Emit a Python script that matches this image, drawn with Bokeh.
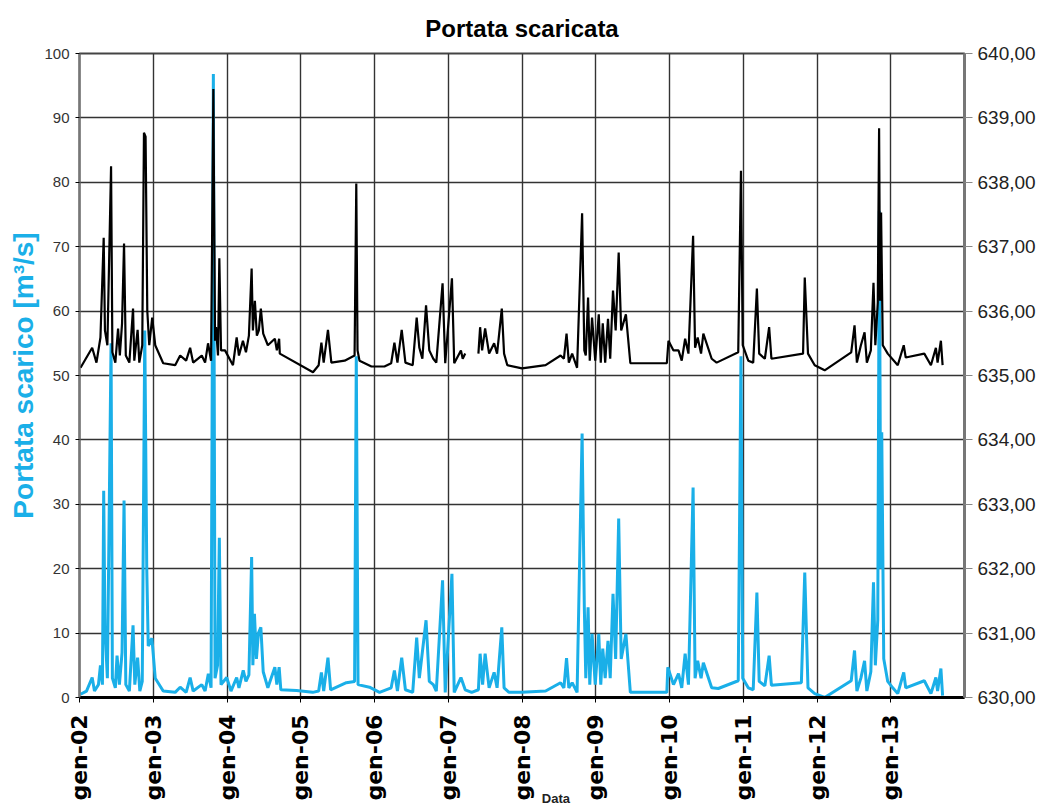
import math
from bokeh.plotting import figure
from bokeh.models import (ColumnDataSource, Range1d, LinearAxis, FixedTicker)
from bokeh.embed import file_html
from bokeh.resources import INLINE

NAN = float("nan")

# ---- data ----
# time as decimal year
t_level = [2002.014, 2002.172, 2002.230, 2002.284, 2002.328, 2002.345, 2002.378, 2002.428, 2002.446, 2002.486,
           2002.523, 2002.547, 2002.577, 2002.604, 2002.628, 2002.676, 2002.726, 2002.743, 2002.788, 2002.811,
           2002.851, 2002.874, 2002.896, 2002.919, 2002.946, 2002.986, 2003.027, 2003.135, 2003.297, 2003.365,
           2003.446, 2003.500, 2003.541, 2003.658, 2003.703, 2003.743, 2003.784, 2003.815, 2003.838, 2003.851,
           2003.878, 2003.896, 2003.919, 2003.973, 2004.081, 2004.131, 2004.162, 2004.216, 2004.257, 2004.297,
           2004.334, 2004.351, 2004.378, 2004.405, 2004.432, 2004.459, 2004.491, 2004.554, 2004.649, 2004.676,
           2004.707, 2004.716, 2005.166, 2005.243, 2005.280, 2005.311, 2005.369, 2005.415, 2005.595, 2005.730,
           2005.753, 2005.770, 2005.797, 2005.959, 2006.135, 2006.226, 2006.270, 2006.311, 2006.369, 2006.419,
           2006.518, 2006.572, 2006.608, 2006.649, 2006.699, 2006.743, 2006.797, 2006.838, 2006.923, 2006.959,
           2007.050, 2007.081, 2007.172, 2007.196, 2007.230, 2007.300, 2007.409, 2007.432, 2007.459, 2007.500,
           2007.554, 2007.622, 2007.662, 2007.726, 2007.757, 2007.801, 2008.000, 2008.320, 2008.523, 2008.568,
           2008.604, 2008.635, 2008.680, 2008.747, 2008.815, 2008.845, 2008.865, 2008.896, 2008.919, 2008.950,
           2008.993, 2009.041, 2009.068, 2009.095, 2009.128, 2009.166, 2009.196, 2009.234, 2009.270, 2009.311,
           2009.345, 2009.409, 2009.469, 2009.964, 2009.986, 2010.054, 2010.122, 2010.166, 2010.212, 2010.257,
           2010.320, 2010.347, 2010.382, 2010.428, 2010.459, 2010.572, 2010.639, 2010.932, 2010.969, 2010.993,
           2011.068, 2011.135, 2011.185, 2011.216, 2011.293, 2011.351, 2011.382, 2011.811, 2011.834, 2011.878,
           2011.969, 2012.104, 2012.464, 2012.509, 2012.541, 2012.595, 2012.645, 2012.676, 2012.730, 2012.766,
           2012.791, 2012.824, 2012.842, 2012.855, 2012.869, 2012.892, 2012.959, 2013.095, 2013.176, 2013.203,
           2013.455, 2013.545, 2013.612, 2013.635, 2013.680, 2013.703]
level = [635.12, 635.43, 635.20, 635.59, 637.14, 635.70, 635.47, 638.25, 635.36, 635.20,
         635.73, 635.31, 635.81, 637.05, 635.31, 635.20, 636.04, 635.23, 635.71, 635.20,
         635.47, 638.77, 638.71, 636.01, 635.47, 635.90, 635.47, 635.19, 635.16, 635.31,
         635.23, 635.43, 635.20, 635.31, 635.20, 635.50, 635.23, 639.45, 635.54, 635.75,
         635.31, 636.82, 635.39, 635.39, 635.16, 635.59, 635.31, 635.54, 635.36, 635.62,
         636.66, 635.70, 636.16, 635.62, 635.70, 636.04, 635.65, 635.47, 635.57, 635.39,
         635.57, 635.34, 635.05, 635.16, 635.51, 635.20, 635.71, 635.20, 635.23, 635.31,
         637.98, 635.39, 635.23, 635.14, 635.14, 635.19, 635.51, 635.20, 635.71, 635.20,
         635.16, 635.90, 635.43, 635.26, 636.09, 635.39, 635.26, 635.20, 636.43, 635.19,
         636.51, 635.19, 635.39, 635.26, 635.34, NAN, 635.34, 635.75, 635.39, 635.73,
         635.34, 635.50, 635.34, 636.04, 635.34, 635.16, 635.11, 635.16, 635.31, 635.26,
         635.65, 635.20, 635.34, 635.12, 637.52, 635.39, 635.31, 636.21, 635.23, 635.90,
         635.23, 635.95, 635.20, 635.81, 635.20, 635.88, 635.26, 636.32, 635.70, 636.91,
         635.70, 635.95, 635.19, 635.19, 635.54, 635.39, 635.39, 635.23, 635.57, 635.34,
         637.17, 635.43, 635.59, 635.34, 635.65, 635.26, 635.20, 635.36, 638.18, 635.47,
         635.23, 635.20, 636.35, 635.34, 635.26, 635.75, 635.26, 635.34, 636.52, 635.34,
         635.16, 635.08, 635.36, 635.78, 635.20, 635.47, 635.67, 635.20, 635.39, 636.44,
         635.47, 636.13, 638.84, 636.16, 637.53, 635.47, 635.34, 635.16, 635.47, 635.28,
         635.34, 635.16, 635.43, 635.20, 635.54, 635.16]

t_flow = [2002.014, 2002.095, 2002.172, 2002.203, 2002.257, 2002.284, 2002.311, 2002.328, 2002.345, 2002.378,
          2002.428, 2002.446, 2002.486, 2002.509, 2002.541, 2002.577, 2002.604, 2002.628, 2002.676, 2002.726,
          2002.750, 2002.788, 2002.818, 2002.851, 2002.885, 2002.912, 2002.932, 2002.982, 2003.027, 2003.135,
          2003.297, 2003.365, 2003.446, 2003.500, 2003.541, 2003.658, 2003.703, 2003.747, 2003.784, 2003.815,
          2003.838, 2003.872, 2003.896, 2003.919, 2003.996, 2004.054, 2004.131, 2004.162, 2004.220, 2004.257,
          2004.297, 2004.334, 2004.351, 2004.372, 2004.399, 2004.426, 2004.459, 2004.491, 2004.554, 2004.649,
          2004.676, 2004.707, 2004.730, 2004.942, 2005.162, 2005.243, 2005.280, 2005.311, 2005.369, 2005.405,
          2005.618, 2005.730, 2005.753, 2005.777, 2005.932, 2006.068, 2006.226, 2006.270, 2006.311, 2006.369,
          2006.419, 2006.518, 2006.572, 2006.608, 2006.699, 2006.743, 2006.797, 2006.838, 2006.923, 2006.959,
          2007.050, 2007.081, 2007.172, 2007.230, 2007.318, 2007.409, 2007.432, 2007.466, 2007.500, 2007.554,
          2007.622, 2007.662, 2007.726, 2007.757, 2007.824, 2008.000, 2008.320, 2008.523, 2008.568, 2008.604,
          2008.635, 2008.680, 2008.747, 2008.815, 2008.845, 2008.865, 2008.896, 2008.919, 2008.950, 2008.993,
          2009.041, 2009.068, 2009.095, 2009.128, 2009.166, 2009.196, 2009.234, 2009.270, 2009.311, 2009.345,
          2009.409, 2009.469, 2009.964, 2009.977, 2010.054, 2010.122, 2010.166, 2010.212, 2010.257, 2010.320,
          2010.347, 2010.382, 2010.428, 2010.459, 2010.572, 2010.662, 2010.932, 2010.969, 2010.993, 2011.068,
          2011.135, 2011.185, 2011.216, 2011.293, 2011.351, 2011.382, 2011.788, 2011.834, 2011.878, 2011.969,
          2012.104, 2012.464, 2012.509, 2012.541, 2012.595, 2012.645, 2012.676, 2012.730, 2012.766, 2012.791,
          2012.824, 2012.845, 2012.865, 2012.878, 2012.905, 2012.959, 2013.027, 2013.095, 2013.176, 2013.203,
          2013.455, 2013.545, 2013.612, 2013.635, 2013.680, 2013.703]
flow = [0.5, 1.0, 3.1, 1.0, 2.0, 5.0, 2.0, 32.1, 10.9, 3.0,
        55.0, 3.0, 1.5, 6.5, 2.0, 7.0, 30.6, 2.0, 1.0, 11.2,
        2.0, 6.2, 1.0, 2.5, 57.0, 20.0, 8.0, 9.2, 3.0, 1.0,
        0.8, 1.6, 0.8, 3.1, 1.0, 2.0, 1.0, 3.7, 1.5, 96.8,
        3.0, 5.0, 24.8, 2.0, 3.1, 1.0, 3.1, 1.5, 4.2, 2.5,
        3.5, 21.8, 5.0, 13.0, 6.0, 10.0, 10.9, 4.0, 1.5, 4.7,
        2.0, 4.7, 1.2, 1.1, 0.8, 1.0, 3.9, 1.0, 6.2, 1.2,
        2.3, 2.5, 53.0, 2.0, 1.6, 0.8, 1.5, 4.2, 1.0, 6.2,
        1.2, 0.8, 9.3, 3.0, 12.0, 2.5, 2.0, 1.0, 18.2, 0.8,
        19.2, 0.8, 3.1, 1.2, 0.8, 1.2, 6.8, 2.0, 6.8, 1.5,
        3.9, 1.5, 10.9, 1.5, 0.8, 0.8, 1.0, 2.3, 1.5, 6.1,
        1.5, 2.3, 0.8, 41.0, 14.0, 3.0, 14.0, 2.0, 9.9, 2.0,
        9.9, 2.0, 7.6, 3.0, 8.8, 3.0, 16.1, 6.0, 27.8, 6.0,
        9.9, 0.8, 0.8, 4.7, 2.0, 3.7, 1.5, 6.8, 2.0, 32.6,
        3.0, 5.7, 3.0, 5.4, 1.5, 1.4, 2.6, 53.0, 3.0, 1.5,
        1.2, 16.3, 2.5, 1.8, 6.5, 1.9, 2.3, 19.4, 1.5, 0.6,
        0.0, 2.6, 7.3, 1.0, 3.0, 5.7, 1.0, 4.0, 17.9, 5.0,
        12.0, 75.6, 20.0, 41.2, 6.0, 2.5, 1.5, 0.6, 3.9, 1.5,
        2.6, 0.6, 3.1, 1.0, 4.5, 0.3]

year_ticks = [2002, 2003, 2004, 2005, 2006, 2007, 2008, 2009, 2010, 2011, 2012, 2013]
year_labels = ["gen-02", "gen-03", "gen-04", "gen-05", "gen-06", "gen-07",
               "gen-08", "gen-09", "gen-10", "gen-11", "gen-12", "gen-13"]
grid_years = [2002, 2003, 2004, 2005, 2006, 2007, 2008, 2009, 2010, 2011, 2012, 2013, 2014]
left_ticks = [0, 10, 20, 30, 40, 50, 60, 70, 80, 90, 100]
right_ticks = [630, 631, 632, 633, 634, 635, 636, 637, 638, 639, 640]
right_labels = ["630,00", "631,00", "632,00", "633,00", "634,00", "635,00",
                "636,00", "637,00", "638,00", "639,00", "640,00"]
x_title = "Data"
x_title_at = 2008.46

CYAN = "#1AAFE8"

p = figure(frame_width=885, frame_height=644,
           min_border_left=79, min_border_right=70, min_border_top=53, min_border_bottom=108,
           x_range=Range1d(2002, 2014), y_range=Range1d(0, 100),
           output_backend="svg", toolbar_location=None,
           title="Portata scaricata")
p.extra_y_ranges = {"level": Range1d(630, 640)}

p.title.align = "center"
p.title.text_font = "Liberation Sans"
p.title.text_font_size = "24px"
p.title.text_font_style = "bold"
p.title.text_color = "black"
p.title.standoff = 24

p.background_fill_color = "white"
p.border_fill_color = "white"
p.outline_line_color = "#444444"
p.outline_line_width = 2

# grid
p.xgrid.ticker = FixedTicker(ticks=grid_years)
p.ygrid.ticker = FixedTicker(ticks=left_ticks)
for g in (p.xgrid, p.ygrid):
    g.grid_line_color = "#333333"
    g.grid_line_width = 1.4

# x axis
xa = p.xaxis[0]
xa.ticker = FixedTicker(ticks=year_ticks)
xa.major_label_overrides = {y: l for y, l in zip(year_ticks, year_labels)}
xa.major_label_orientation = math.pi / 2
xa.major_label_text_font = "DejaVu Sans"
xa.major_label_text_font_style = "bold"
xa.major_label_text_font_size = "22px"
xa.major_label_text_color = "black"
xa.major_label_standoff = 12
xa.major_tick_out = 5
xa.major_tick_in = 0
xa.minor_tick_line_color = None
xa.axis_line_color = "black"
xa.axis_line_width = 3

# small "Data" title under the axis, as a second bare axis
xa2 = LinearAxis(ticker=FixedTicker(ticks=[x_title_at]))
xa2.major_label_overrides = {x_title_at: x_title}
xa2.major_label_text_font = "Liberation Sans"
xa2.major_label_text_font_size = "13px"
xa2.major_label_text_font_style = "bold"
xa2.major_label_text_color = "#222222"
xa2.major_label_standoff = -13
xa2.major_tick_out = 0
xa2.major_tick_in = 0
xa2.major_tick_line_color = None
xa2.minor_tick_line_color = None
xa2.axis_line_color = None
p.add_layout(xa2, "below")

# left axis
ya = p.yaxis[0]
ya.ticker = FixedTicker(ticks=left_ticks)
ya.axis_label = "Portata scarico [m³/s]"
ya.axis_label_text_color = CYAN
ya.axis_label_text_font = "Liberation Sans"
ya.axis_label_text_font_style = "bold"
ya.axis_label_text_font_size = "28px"
ya.axis_label_standoff = 2
ya.major_label_text_font = "Liberation Sans"
ya.major_label_text_font_size = "15px"
ya.major_label_text_color = "#333333"
ya.major_label_standoff = 6
ya.major_tick_out = 4
ya.major_tick_in = 0
ya.minor_tick_line_color = None
ya.axis_line_color = "#777777"
ya.axis_line_width = 2

# right axis
ra = LinearAxis(y_range_name="level", ticker=FixedTicker(ticks=right_ticks))
ra.major_label_overrides = {v: l for v, l in zip(right_ticks, right_labels)}
ra.major_label_text_font = "Liberation Sans"
ra.major_label_text_font_size = "19px"
ra.major_label_text_color = "#222222"
ra.major_label_standoff = 5
ra.major_tick_out = 8
ra.major_tick_in = 0
ra.major_tick_line_color = "#888888"
ra.minor_tick_line_color = None
ra.axis_line_color = "#777777"
ra.axis_line_width = 3
p.add_layout(ra, "right")

src_flow = ColumnDataSource(dict(t=t_flow, v=flow))
src_level = ColumnDataSource(dict(t=t_level, v=level))

p.line("t", "v", source=src_flow, line_color=CYAN, line_width=3)
p.line("t", "v", source=src_level, line_color="black", line_width=2.2, y_range_name="level")

open("out.html", "w").write(file_html(p, INLINE))
